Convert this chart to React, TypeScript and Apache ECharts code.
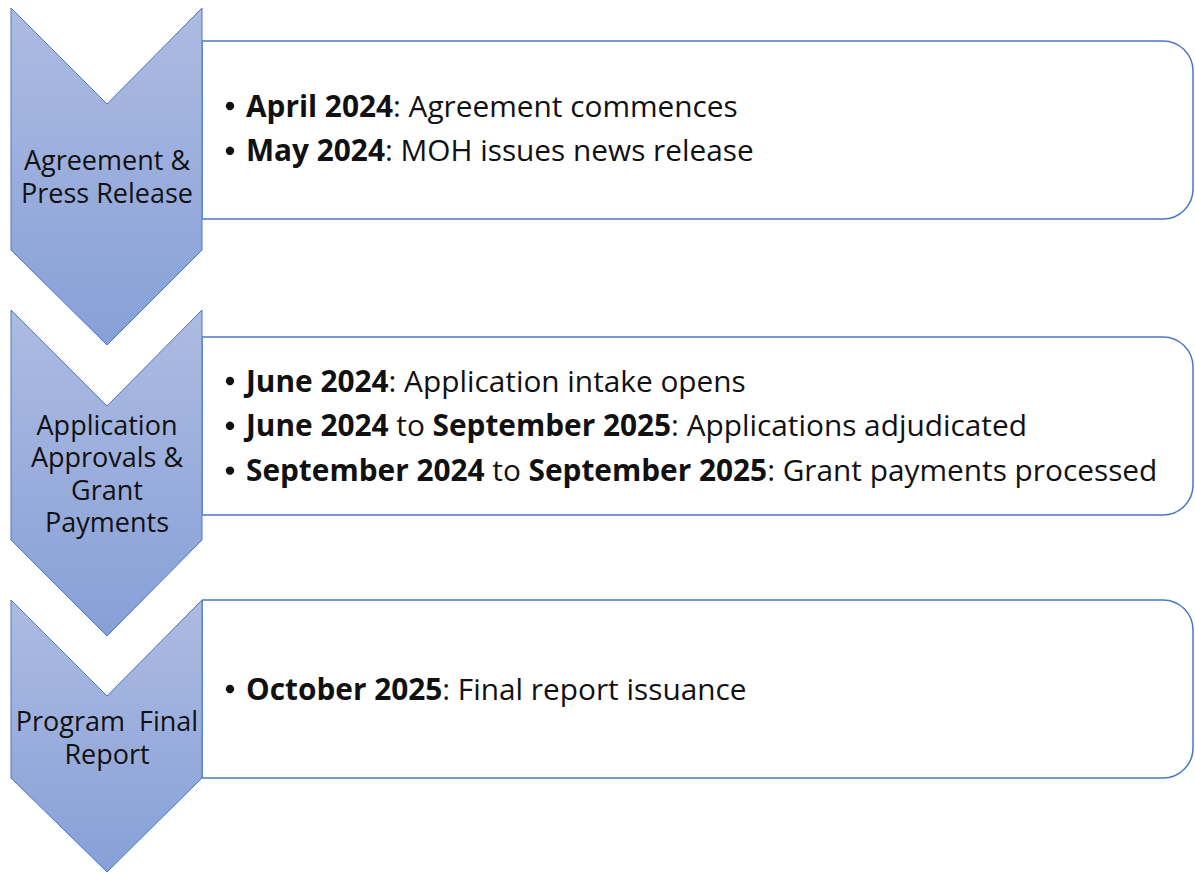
import React, { useEffect, useRef } from "react";
import * as echarts from "echarts";

const stageLabels: string[][] = [
  ["Agreement &", "Press Release"],
  ["Application", "Approvals &", "Grant", "Payments"],
  ["Program  Final", "Report"],
];

// each bullet: list of [text, bold]
const stageBullets: [string, boolean][][][] = [
  [
    [["April 2024", true], [": Agreement commences", false]],
    [["May 2024", true], [": MOH issues news release", false]],
  ],
  [
    [["June 2024", true], [": Application intake opens", false]],
    [["June 2024", true], [" to ", false], ["September 2025", true], [": Applications adjudicated", false]],
    [["September 2024", true], [" to ", false], ["September 2025", true], [": Grant payments processed", false]],
  ],
  [[["October 2025", true], [": Final report issuance", false]]],
];

// layout (pixels)
const chevTop = [8, 310, 600];
const chevSideBottom = [250, 540, 778];
const chevTip = [345, 636, 872];
const boxTop = [41, 337, 600];
const boxBottom = [219, 515, 778];
const labelCenterY = [176, 473, 737];
const bulletFirstY = [105, 380, 688];

const FONT = "'Open Sans', Lato, sans-serif";
const FS = 29.8;
const LABEL_LH = 32.5;

export default function App() {
  const ref = useRef<HTMLDivElement>(null);
  useEffect(() => {
    document.body.style.margin = "0";
    const chart = echarts.init(ref.current!, null, { renderer: "svg" });
    const L = 11, R = 202, C = 107, notch = 96;
    const elements: any[] = [];
    stageLabels.forEach((lines, i) => {
      elements.push({
        type: "rect",
        shape: { x: R, y: boxTop[i], width: 1193 - R, height: boxBottom[i] - boxTop[i], r: [0, 30, 30, 0] },
        style: { fill: "#ffffff", stroke: "#4a78c6", lineWidth: 1.5 },
      });
      elements.push({
        type: "polygon",
        shape: {
          points: [
            [L, chevTop[i]],
            [C, chevTop[i] + notch],
            [R, chevTop[i]],
            [R, chevSideBottom[i]],
            [C, chevTip[i]],
            [L, chevSideBottom[i]],
          ],
        },
        style: {
          fill: new echarts.graphic.LinearGradient(0, 0, 0, 1, [
            { offset: 0, color: "#aebbe2" },
            { offset: 1, color: "#86a0d7" },
          ]),
          stroke: "#4a78c6",
          lineWidth: 1,
        },
      });
      const n = lines.length;
      lines.forEach((line, k) => {
        elements.push({
          type: "text",
          x: C,
          y: labelCenterY[i] + (k - (n - 1) / 2) * LABEL_LH,
          style: {
            text: line,
            font: `27px ${FONT}`,
            fill: "#111111",
            align: "center",
            verticalAlign: "middle",
            lineHeight: 30,
          },
        });
      });
      stageBullets[i].forEach((segs, j) => {
        const y = bulletFirstY[i] + j * 44.8;
        elements.push({
          type: "circle",
          shape: { cx: 230, cy: y + 1, r: 4.2 },
          style: { fill: "#111111" },
        });
        const txt = segs.map(([t, b]) => (b ? `{b|${t}}` : `{n|${t}}`)).join("");
        elements.push({
          type: "text",
          x: 246,
          y,
          style: {
            text: txt,
            font: `${FS}px ${FONT}`,
            fill: "#111111",
            verticalAlign: "middle",
            rich: {
              b: { fontWeight: "bold", fontSize: FS, fontFamily: FONT, fill: "#111111" },
              n: { fontSize: FS, fontFamily: FONT, fill: "#111111" },
            },
          },
        });
      });
    });
    chart.setOption({ animation: false, graphic: { elements } });
    return () => chart.dispose();
  }, []);
  return <div ref={ref} style={{ width: 1195, height: 873 }} />;
}
